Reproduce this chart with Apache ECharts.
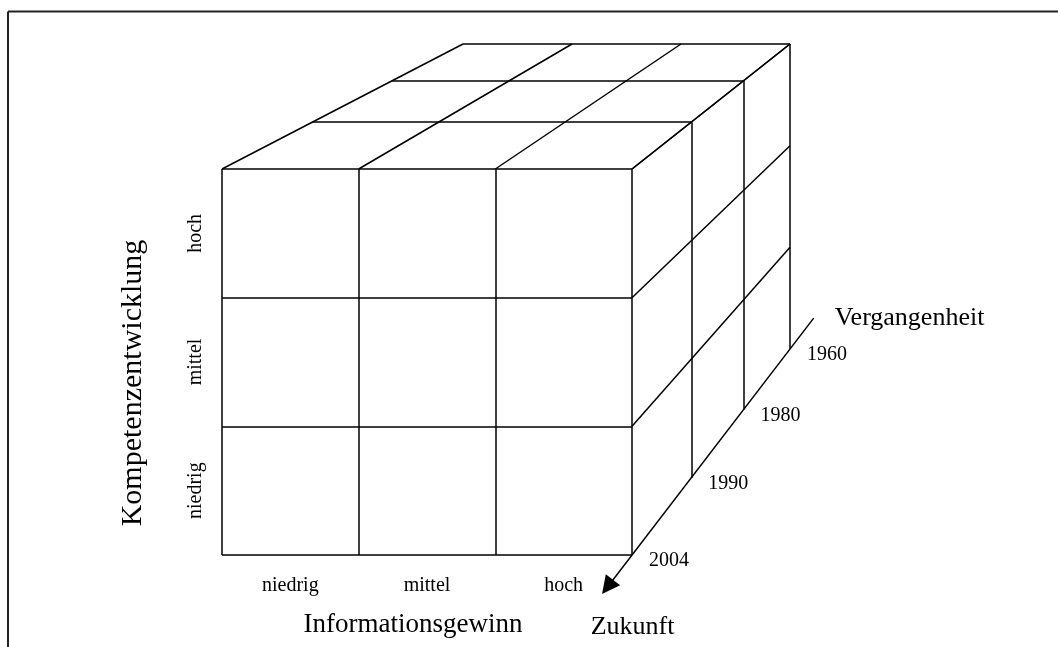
<!DOCTYPE html>
<html>
<head>
<meta charset="utf-8">
<script src="https://cdn.jsdelivr.net/npm/echarts@6/dist/echarts.min.js"></script>
<style>
  html, body { margin: 0; padding: 0; background: #fff; }
  #main { width: 1058px; height: 647px; }
</style>
</head>
<body>
<div id="main"></div>
<script>
// Achsen des Würfels
var infoLevels = ['niedrig', 'mittel', 'hoch'];      // Informationsgewinn (x)
var kompLevels = ['niedrig', 'mittel', 'hoch'];      // Kompetenzentwicklung (y, unten -> oben)
var years = ['2004', '1990', '1980', '1960'];        // Zeitachse, vorne -> hinten
var timeEnds = ['Vergangenheit', 'Zukunft'];

// Lage des Würfels (Pixel im Raster 1058x647)
var FRONT = { left: 222, right: 632, top: 169, bottom: 555 };
var BACK = { left: 463, right: 790, top: 44, bottom: 349 };
var PERSP = 0.2;
var FONT = 'Liberation Serif';

function depth(k) {
    var z = k / (years.length - 1);
    return z * (1 + PERSP) / (1 + PERSP * z);
}
function pointAt(u, v, t) {
    var fx = FRONT.left + u * (FRONT.right - FRONT.left);
    var fy = FRONT.bottom - v * (FRONT.bottom - FRONT.top);
    var bx = BACK.left + u * (BACK.right - BACK.left);
    var by = BACK.bottom - v * (BACK.bottom - BACK.top);
    return [fx + t * (bx - fx), fy + t * (by - fy)];
}
function project(i, j, k) {
    return pointAt(i / infoLevels.length, j / kompLevels.length, depth(k));
}

var nx = infoLevels.length, ny = kompLevels.length, nz = years.length - 1;
var edges = [];
function edge(a, b) { edges.push({ coords: [a, b] }); }

// Vorderseite
for (var i = 0; i <= nx; i++) edge(project(i, 0, 0), project(i, ny, 0));
for (var j = 0; j <= ny; j++) edge(project(0, j, 0), project(nx, j, 0));
// Oberseite
for (var k = 1; k <= nz; k++) edge(project(0, ny, k), project(nx, ny, k));
for (var i = 0; i <= nx; i++) edge(project(i, ny, 0), project(i, ny, nz));
// rechte Seite
for (var k = 1; k <= nz; k++) edge(project(nx, 0, k), project(nx, ny, k));
for (var j = 1; j <= ny; j++) edge(project(nx, j, 0), project(nx, j, nz));

// Zeitachse (verlängerte Unterkante rechts)
var axisTop = pointAt(1, 0, 1.15);
var axisEnd = pointAt(1, 0, -0.155);

var yearPoints = years.map(function (y, k) {
    var p = project(nx, 0, k);
    return [p[0], p[1], y];
});

var myChart = echarts.init(document.getElementById('main'));
myChart.setOption({
    animation: false,
    backgroundColor: '#fff',
    grid: [
        { left: 0, right: 0, top: 0, bottom: 0 },
        { left: FRONT.left, top: FRONT.top, width: FRONT.right - FRONT.left, height: FRONT.bottom - FRONT.top }
    ],
    xAxis: [
        { type: 'value', min: 0, max: 1058, show: false, gridIndex: 0 },
        {
            type: 'category', gridIndex: 1, data: infoLevels,
            axisLine: { show: false }, axisTick: { show: false }, splitLine: { show: false },
            axisLabel: { margin: 21, fontSize: 20, fontFamily: FONT, color: '#000' },
            name: 'Informationsgewinn', nameLocation: 'middle', nameGap: 56,
            nameTextStyle: { fontSize: 27, fontFamily: FONT, color: '#000', padding: [0, 28, 0, 0] }
        }
    ],
    yAxis: [
        { type: 'value', min: 0, max: 647, inverse: true, show: false, gridIndex: 0 },
        {
            type: 'category', gridIndex: 1, data: kompLevels,
            axisLine: { show: false }, axisTick: { show: false }, splitLine: { show: false },
            axisLabel: { rotate: 90, margin: 16, fontSize: 20, fontFamily: FONT, color: '#000' },
            name: 'Kompetenzentwicklung', nameLocation: 'middle', nameGap: 74,
            nameTextStyle: { fontSize: 30, fontFamily: FONT, color: '#000', padding: [0, 42, 0, 0] }
        }
    ],
    series: [
        {
            type: 'lines', coordinateSystem: 'cartesian2d', polyline: false, silent: true,
            lineStyle: { color: '#000', width: 1.5, opacity: 1, curveness: 0 },
            data: edges
        },
        {
            type: 'lines', coordinateSystem: 'cartesian2d', polyline: false, silent: true,
            symbol: ['none', 'triangle'], symbolSize: 18,
            lineStyle: { color: '#000', width: 1.5, opacity: 1, curveness: 0 },
            itemStyle: { color: '#000' },
            data: [{ coords: [axisTop, axisEnd] }]
        },
        {
            type: 'scatter', symbolSize: 0, silent: true,
            itemStyle: { opacity: 1 },
            data: yearPoints,
            label: {
                show: true, position: 'right', distance: 17, offset: [0, 6],
                formatter: function (p) { return p.data[2]; },
                fontSize: 20, fontFamily: FONT, color: '#000'
            }
        },
        {
            type: 'scatter', symbolSize: 0, silent: true,
            itemStyle: { opacity: 1 },
            data: [
                { value: axisTop, name: timeEnds[0], label: { position: 'right', distance: 21, offset: [0, 0] } },
                { value: axisEnd, name: timeEnds[1], label: { position: 'bottom', distance: 27, offset: [25, 0] } }
            ],
            label: {
                show: true, formatter: '{b}',
                fontSize: 26, fontFamily: FONT, color: '#000'
            }
        }
    ],
    graphic: [
        { type: 'line', silent: true, shape: { x1: 8, y1: 11.5, x2: 1058, y2: 11.5 }, style: { stroke: '#222', lineWidth: 2 } },
        { type: 'line', silent: true, shape: { x1: 8, y1: 11.5, x2: 8, y2: 647 }, style: { stroke: '#222', lineWidth: 2 } }
    ]
});
</script>
</body>
</html>
